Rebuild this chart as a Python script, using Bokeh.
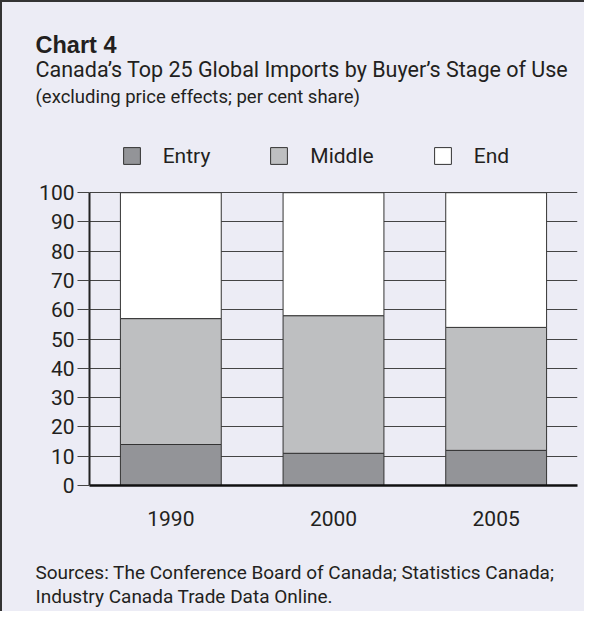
from bokeh.plotting import figure
from bokeh.models import (ColumnDataSource, FactorRange, Range1d, Legend, LegendItem,
                          FixedTicker, Title)
from bokeh.embed import file_html
from bokeh.resources import INLINE

# ---- data ----
years = ["1990", "2000", "2005"]
entry = [14, 11, 12]
middle = [43, 47, 42]
end = [43, 42, 46]
series = ["Entry", "Middle", "End"]
y_ticks = [0, 10, 20, 30, 40, 50, 60, 70, 80, 90, 100]

title_main = "Chart 4"
title_sub = "Canada\u2019s Top 25 Global Imports by Buyer\u2019s Stage of Use"
title_note = "(excluding price effects; per cent share)"
source_1 = "Sources: The Conference Board of Canada; Statistics Canada;"
source_2 = "Industry Canada Trade Data Online."

# ---- style ----
BG = "#ECECF5"
TXT = "#231F20"
FONT = "Roboto"
BOLD = "Liberation Sans"
colors = ["#939498", "#BEBFC1", "#FFFFFF"]

W, H = 584, 611
FRAME_L, FRAME_R = 87, 575          # canvas px
Y100, FRAME_B = 191, 483            # canvas px of value 100 and of value 0

# heights of the stacked title panels above the frame (2 + text height + standoff)
above_panels = [29.43, 28.25, 21.54, 34.78]
FRAME_T = round(sum(above_panels))
y_top = 100 * (FRAME_B - FRAME_T) / (FRAME_B - Y100)

src = ColumnDataSource(dict(year=years, entry=entry, middle=middle, end=end))

p = figure(width=W, height=H, output_backend="svg", toolbar_location=None,
           x_range=FactorRange(*years, range_padding=0), y_range=Range1d(0, y_top),
           min_border_left=FRAME_L, min_border_right=W - FRAME_R,
           min_border_top=0, min_border_bottom=H - FRAME_B,
           title_location=None)
p.background_fill_color = BG
p.background_fill_alpha = 0
p.border_fill_color = BG
p.outline_line_color = None
p.styles = {"border-top": "2px solid #333333", "border-left": "2px solid #333333",
            "background-color": BG}

renderers = p.vbar_stack(["entry", "middle", "end"], x="year", width=0.62, source=src,
                         fill_color=colors, line_color="#333333", line_width=1)

# grid
p.xgrid.grid_line_color = None
p.ygrid.grid_line_color = "#444444"
p.ygrid.grid_line_width = 1.2
p.ygrid.ticker = FixedTicker(ticks=y_ticks)

# y axis
p.yaxis.ticker = FixedTicker(ticks=y_ticks)
p.yaxis.bounds = (0, 100)
p.yaxis.axis_line_color = "#222222"
p.yaxis.axis_line_width = 2
p.yaxis.major_tick_out = 12
p.yaxis.major_tick_in = 0
p.yaxis.major_tick_line_color = "#444444"
p.yaxis.major_tick_line_width = 1.2
p.yaxis.minor_tick_line_color = None
p.yaxis.major_label_standoff = 3
p.yaxis.major_label_text_font = FONT
p.yaxis.major_label_text_font_size = "21px"
p.yaxis.major_label_text_color = TXT

# x axis
p.xaxis.axis_line_color = "#111111"
p.xaxis.axis_line_width = 2.5
p.xaxis.major_tick_out = 0
p.xaxis.major_tick_in = 0
p.xaxis.major_tick_line_color = None
p.xaxis.minor_tick_line_color = None
p.xaxis.major_label_standoff = 25
p.xaxis.major_label_text_font = FONT
p.xaxis.major_label_text_font_size = "21px"
p.xaxis.major_label_text_color = TXT


def title(txt, size, font, standoff, style="normal"):
    return Title(text=txt, align="left", vertical_align="top", offset=33 - FRAME_L,
                 standoff=standoff, text_font=font, text_font_size=size,
                 text_font_style=style, text_color=TXT)


# above: first added sits nearest the frame
p.add_layout(title(title_note, "18.5px", FONT, 11.1), "above")
p.add_layout(title(title_sub, "21.5px", FONT, -5.66), "above")
p.add_layout(title(title_main, "23.5px", BOLD, 0, "bold"), "above")
p.add_layout(title(" ", "1px", FONT, 26.26), "above")

# below: axis, spacer, sources
p.add_layout(title(" ", "1px", FONT, 28.6), "below")
p.add_layout(title(source_1, "19px", FONT, 0), "below")
p.add_layout(title(source_2, "19px", FONT, -0.54), "below")

# legend inside the (taller) frame, above the 100 line
legend = Legend(items=[LegendItem(label=n, renderers=[r]) for n, r in zip(series, renderers)],
                orientation="horizontal", location=(31.7, FRAME_B - 137 - 33),
                glyph_width=21, glyph_height=21, label_height=33, label_standoff=21,
                spacing=58, padding=0, margin=0,
                label_text_font=FONT, label_text_font_size="21px", label_text_color=TXT,
                background_fill_alpha=0, border_line_alpha=0)
p.add_layout(legend)

open("out.html", "w").write(file_html(p, INLINE))
